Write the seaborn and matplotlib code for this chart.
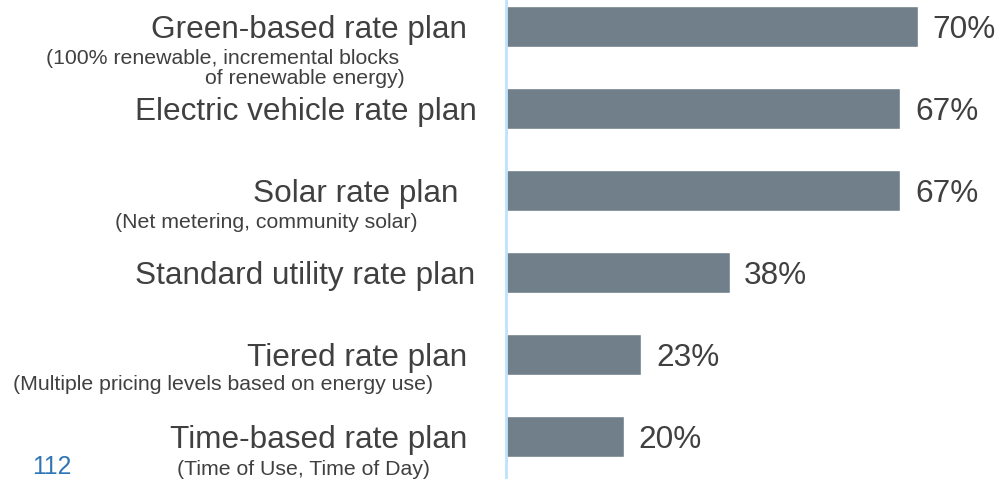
import matplotlib
matplotlib.use('Agg')
import matplotlib.pyplot as plt
import matplotlib.transforms as mtransforms
import seaborn as sns
import pandas as pd

# data
plans = ["Green-based rate plan", "Electric vehicle rate plan", "Solar rate plan",
         "Standard utility rate plan", "Tiered rate plan", "Time-based rate plan"]
shares = [70, 67, 67, 38, 23, 20]
notes = ["(100% renewable, incremental blocks \nof renewable energy)",
         "",
         "(Net metering, community solar)",
         "",
         "(Multiple pricing levels based on energy use)",
         "(Time of Use, Time of Day)"]
page_no = "112"

# layout (pixels on the 999x479 canvas)
W, H = 999, 479
label_right = [467, 477, 458, 475, 467, 467]
note_right = [405, 0, 418, 0, 433, 430]
note_dy = [42, 0, 32, 0, 30, 33]

bar_color = "#717f8a"
text_color = "#404040"
line_color = "#bde3fa"

sns.set_theme(style="white")
plt.rcParams['font.family'] = ['Liberation Sans', 'DejaVu Sans']

df = pd.DataFrame({"plan": plans, "share": shares})

fig = plt.figure(figsize=(W / 100, H / 100), dpi=100)
ax = fig.add_axes([506 / W, 0, 1 - 506 / W, 1])
sns.barplot(data=df, x="share", y="plan", color=bar_color, width=0.5,
            saturation=1, ax=ax)

px_per_unit = 412 / 70
ax.set_xlim(0, (W - 506) / px_per_unit)
ax.set_ylim((H - 26.5) / 82, -26.5 / 82)

labels = ax.bar_label(ax.containers[0], fmt="%d%%", padding=10.5, fontsize=22.7,
                      color=text_color)
for t in labels:
    t.set_va("center_baseline")

for s in ["top", "right", "bottom"]:
    ax.spines[s].set_visible(False)
ax.spines["left"].set_color(line_color)
ax.spines["left"].set_linewidth(2)
ax.set_xticks([])
ax.set_yticks([])
ax.set_xlabel("")
ax.set_ylabel("")

trans = mtransforms.blended_transform_factory(fig.transFigure, ax.transData)
for i, (name, note) in enumerate(zip(plans, notes)):
    ax.text(label_right[i] / W, i, name, transform=trans, ha="right",
            va="center_baseline", fontsize=22.7, color=text_color, clip_on=False)
    if note:
        ax.text(note_right[i] / W, i + note_dy[i] / 82, note, transform=trans,
                ha="right", va="center", multialignment="right", linespacing=1.08,
                fontsize=15.3, color=text_color, clip_on=False)

fig.text(32 / W, 1 - 467 / H, page_no, ha="left", va="center",
         fontsize=17.7, color="#2e75b6")

fig.savefig("out.png", dpi=100)
